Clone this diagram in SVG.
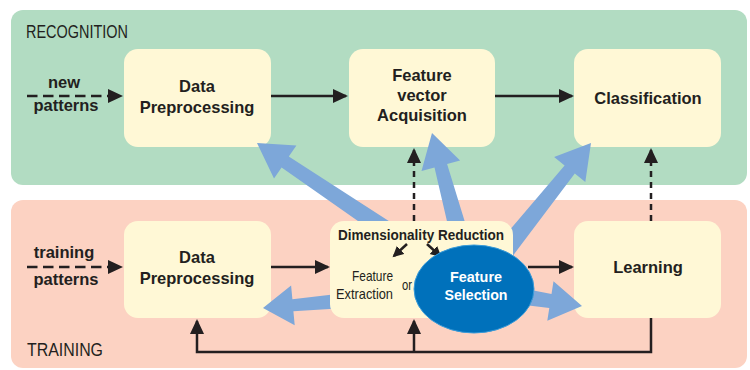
<svg xmlns="http://www.w3.org/2000/svg" width="750" height="370" viewBox="0 0 750 370">
<style>
.lbl{font-family:"Liberation Sans",Arial,sans-serif;font-weight:bold;font-size:16.5px;fill:#231f20;text-anchor:middle}
.sec{font-family:"Liberation Sans",Arial,sans-serif;font-size:18px;fill:#231f20}
.box{fill:#fff8d6}
.blue{fill:#7da7d9}
.ln{stroke:#231f20;stroke-width:2.5;fill:none}
.dh{stroke-dasharray:10.5 5.5}
.dv{stroke-dasharray:6 5}
</style>
<defs>
<marker id="ah" markerUnits="userSpaceOnUse" markerWidth="16" markerHeight="14" refX="13" refY="7" orient="auto">
<path d="M0,0 L15,7 L0,14 z" fill="#231f20"/>
</marker>
<marker id="ah2" markerUnits="userSpaceOnUse" markerWidth="12" markerHeight="12" refX="9" refY="5.5" orient="auto">
<path d="M0,0 L11,5.5 L0,11 z" fill="#231f20"/>
</marker>
</defs>
<g id="panels">
<rect x="11" y="10" width="736" height="175" rx="12" fill="#b2dcc2"/>
<rect x="11" y="200" width="736" height="168" rx="12" fill="#fcd2c2"/>
<text class="sec" x="26" y="38" textLength="102" lengthAdjust="spacingAndGlyphs">RECOGNITION</text>
<text class="sec" x="27" y="356" textLength="76" lengthAdjust="spacingAndGlyphs">TRAINING</text>
</g>
<g id="rec-preproc">
<rect class="box" x="124" y="49" width="147" height="98" rx="14"/>
<text class="lbl" x="197" y="92">Data</text>
<text class="lbl" x="197" y="113">Preprocessing</text>
</g>
<g id="rec-feature">
<rect class="box" x="349" y="49" width="146" height="98" rx="14"/>
<text class="lbl" x="422" y="81">Feature</text>
<text class="lbl" x="422" y="101">vector</text>
<text class="lbl" x="422" y="121">Acquisition</text>
</g>
<g id="rec-class">
<rect class="box" x="574" y="49" width="147" height="98" rx="14"/>
<text class="lbl" x="648" y="104">Classification</text>
</g>
<g id="tr-preproc">
<rect class="box" x="124" y="221" width="147" height="97" rx="14"/>
<text class="lbl" x="197" y="263">Data</text>
<text class="lbl" x="197" y="284">Preprocessing</text>
</g>
<g id="tr-learning">
<rect class="box" x="574" y="221" width="147" height="97" rx="14"/>
<text class="lbl" x="648" y="273">Learning</text>
</g>
<g id="blue-arrows">
<polygon class="blue" points="480.1,279.9 288.8,156.6 296.4,145.4 257,143 274.0,178.6 281.6,167.4 467.9,298.1"/>
<polygon class="blue" points="484.6,286.1 447.1,164.1 460.1,160.6 432,133 421.5,171.0 434.5,167.5 463.4,291.9"/>
<polygon class="blue" points="482.6,295.9 574.8,173.6 585.3,182.0 591,143 554.1,157.0 564.6,165.4 465.4,282.1"/>
<polygon class="blue" points="473.0,278.0 292.4,299.3 291.1,285.4 263,308 294.7,325.2 293.4,311.3 475.0,300.0"/>
<polygon class="blue" points="475.6,279.1 551.5,294.1 553.5,281.2 582,306 547.3,320.8 549.3,307.9 472.4,298.9"/>
</g>
<g id="dimred">
<rect class="box" x="330" y="221" width="183" height="97" rx="14"/>
<text x="421" y="240" font-family="'Liberation Sans',Arial,sans-serif" font-weight="bold" font-size="14.5" fill="#231f20" text-anchor="middle" textLength="166" lengthAdjust="spacingAndGlyphs">Dimensionality Reduction</text>
<line class="ln" x1="407" y1="244" x2="394" y2="256" stroke-width="2" marker-end="url(#ah2)"/>
<line class="ln" x1="427" y1="244" x2="440" y2="256" stroke-width="2" marker-end="url(#ah2)"/>
<text x="352" y="281" font-family="'Liberation Sans',Arial,sans-serif" font-size="15" fill="#231f20" textLength="41" lengthAdjust="spacingAndGlyphs">Feature</text>
<text x="336" y="299" font-family="'Liberation Sans',Arial,sans-serif" font-size="15" fill="#231f20" textLength="57" lengthAdjust="spacingAndGlyphs">Extraction</text>
<text x="402" y="290" font-family="'Liberation Sans',Arial,sans-serif" font-size="15" fill="#231f20" textLength="10" lengthAdjust="spacingAndGlyphs">or</text>
</g>
<g id="feature-selection">
<ellipse cx="474" cy="289" rx="60" ry="44" fill="#0071bb" stroke="#3a9bd8" stroke-width="1"/>
<text x="476" y="282" font-family="'Liberation Sans',Arial,sans-serif" font-weight="bold" font-size="15.5" fill="#ffffff" text-anchor="middle" textLength="52" lengthAdjust="spacingAndGlyphs">Feature</text>
<text x="476" y="300" font-family="'Liberation Sans',Arial,sans-serif" font-weight="bold" font-size="15.5" fill="#ffffff" text-anchor="middle" textLength="63" lengthAdjust="spacingAndGlyphs">Selection</text>
</g>
<g id="inputs">
<text class="lbl" x="64" y="88">new</text>
<text class="lbl" x="66" y="111">patterns</text>
<text class="lbl" x="64" y="258">training</text>
<text class="lbl" x="66" y="285">patterns</text>
</g>
<g id="connectors">
<line class="ln dh" x1="27" y1="96" x2="121" y2="96" marker-end="url(#ah)"/>
<line class="ln" x1="271" y1="96" x2="346" y2="96" marker-end="url(#ah)"/>
<line class="ln" x1="495" y1="96" x2="572" y2="96" marker-end="url(#ah)"/>
<line class="ln dh" x1="27" y1="267" x2="121" y2="267" marker-end="url(#ah)"/>
<line class="ln" x1="271" y1="267" x2="328" y2="267" marker-end="url(#ah)"/>
<line class="ln" x1="528" y1="267" x2="572" y2="267" marker-end="url(#ah)"/>
<line class="ln dv" x1="414" y1="221" x2="414" y2="150" marker-end="url(#ah)"/>
<line class="ln dv" x1="651" y1="221" x2="651" y2="150" marker-end="url(#ah)"/>
<path class="ln" d="M651,318 V352 H197 V321" marker-end="url(#ah)"/>
<path class="ln" d="M414,352 V321" marker-end="url(#ah)"/>
</g>
</svg>
